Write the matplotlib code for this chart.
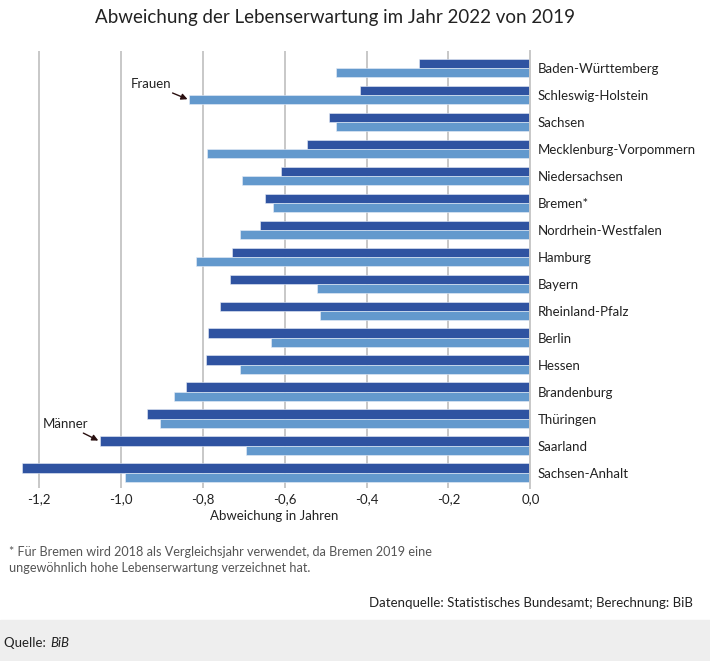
import matplotlib.pyplot as plt
import numpy as np

plt.rcParams["font.family"] = ["Lato", "DejaVu Sans"]

laender = [
    "Baden-Württemberg", "Schleswig-Holstein", "Sachsen", "Mecklenburg-Vorpommern",
    "Niedersachsen", "Bremen*", "Nordrhein-Westfalen", "Hamburg", "Bayern",
    "Rheinland-Pfalz", "Berlin", "Hessen", "Brandenburg", "Thüringen",
    "Saarland", "Sachsen-Anhalt",
]
maenner = [-0.272, -0.417, -0.491, -0.545, -0.608, -0.648, -0.661, -0.728, -0.734,
           -0.757, -0.786, -0.791, -0.842, -0.935, -1.052, -1.242]
frauen = [-0.475, -0.834, -0.475, -0.790, -0.705, -0.628, -0.708, -0.816, -0.520,
          -0.514, -0.634, -0.708, -0.871, -0.905, -0.695, -0.990]
xticks = [-1.2, -1.0, -0.8, -0.6, -0.4, -0.2, 0.0]

DARK = "#2f53a1"
LIGHT = "#6399cd"
GRID = "#c8c8c8"
TEXT = "#222222"

fig = plt.figure(figsize=(7.1, 6.61), dpi=100)
ax = fig.add_axes([0.026, 0.2617, 0.721, 0.6611])

y = np.arange(len(laender))
h = 0.35
ax.barh(y - h / 2, maenner, height=h, color=DARK, edgecolor="#e8eef8", linewidth=0.4)
ax.barh(y + h / 2, frauen, height=h, color=LIGHT, edgecolor="#e8eef8", linewidth=0.4)

ax.set_xlim(-1.25, 0)
ax.set_ylim(len(laender) - 0.44, -0.63)
ax.set_xticks(xticks)
ax.set_xticklabels([f"{t:.1f}".replace(".", ",") for t in xticks], fontsize=9.5, color=TEXT)
ax.set_yticks(y)
ax.set_yticklabels(laender, fontsize=9.5, color=TEXT)
ax.yaxis.tick_right()
ax.tick_params(axis="both", length=0)
ax.tick_params(axis="y", pad=5.5)
ax.tick_params(axis="x", pad=4)

ax.set_axisbelow(True)
ax.grid(axis="x", color=GRID, linewidth=1.4)
for side in ("top", "left", "bottom"):
    ax.spines[side].set_visible(False)
ax.spines["right"].set_color(GRID)
ax.spines["right"].set_linewidth(1.4)

ax.set_xlabel("Abweichung in Jahren", fontsize=9.5, color=TEXT, labelpad=3)

ax.annotate("Frauen", xy=(frauen[1], 1 + h / 2), xytext=(-0.975, 0.6),
            fontsize=9.5, color=TEXT, ha="left", va="center",
            arrowprops=dict(arrowstyle="-|>", color="#2a1010", lw=1.0,
                            shrinkA=0, shrinkB=1, mutation_scale=9))
ax.annotate("Männer", xy=(maenner[14], 14 - h / 2), xytext=(-1.19, 13.2),
            fontsize=9.5, color=TEXT, ha="left", va="center",
            arrowprops=dict(arrowstyle="-|>", color="#2a1010", lw=1.0,
                            shrinkA=0, shrinkB=1, mutation_scale=9))

fig.text(0.472, 0.973, "Abweichung der Lebenserwartung im Jahr 2022 von 2019",
         fontsize=13.5, color=TEXT, ha="center", va="center")

fig.text(0.013, 0.153,
         "* Für Bremen wird 2018 als Vergleichsjahr verwendet, da Bremen 2019 eine\n"
         "ungewöhnlich hohe Lebenserwartung verzeichnet hat.",
         fontsize=9.1, color="#555555", ha="left", va="center", linespacing=1.4)
fig.text(0.976, 0.087, "Datenquelle: Statistisches Bundesamt; Berechnung: BiB",
         fontsize=9.5, color=TEXT, ha="right", va="center")

fig.patches.append(plt.Rectangle((0, 0), 1, 0.062, transform=fig.transFigure,
                                 color="#eeeeee", zorder=0))
fig.text(0.006, 0.027, "Quelle: ", fontsize=9.5, color=TEXT, ha="left", va="center")
fig.text(0.071, 0.027, "BiB", fontsize=9.5, color=TEXT, ha="left", va="center",
         style="italic")

fig.savefig("out.png", dpi=100)
